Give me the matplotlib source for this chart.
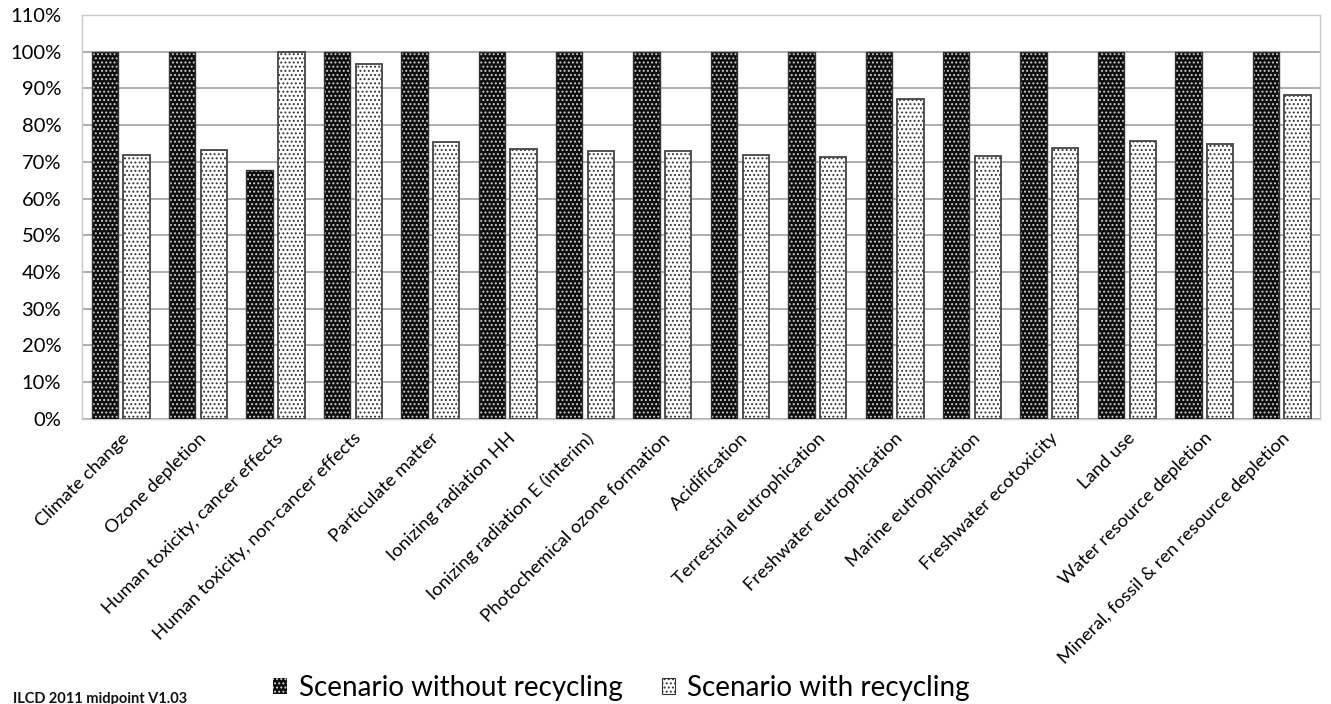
import matplotlib
matplotlib.use("Agg")
import matplotlib.pyplot as plt
import numpy as np
from matplotlib.patches import Patch
from matplotlib.ticker import MultipleLocator, FuncFormatter

categories = ["Climate change", "Ozone depletion", "Human toxicity, cancer effects",
              "Human toxicity, non-cancer effects", "Particulate matter", "Ionizing radiation HH",
              "Ionizing radiation E (interim)", "Photochemical ozone formation", "Acidification",
              "Terrestrial eutrophication", "Freshwater eutrophication", "Marine eutrophication",
              "Freshwater ecotoxicity", "Land use", "Water resource depletion",
              "Mineral, fossil & ren resource depletion"]
without_recycling = [100, 100, 67.8, 100, 100, 100, 100, 100, 100, 100, 100, 100, 100, 100, 100, 100]
with_recycling = [72.0, 73.3, 100, 96.6, 75.4, 73.4, 73.0, 73.0, 71.8, 71.2, 87.0, 71.5, 73.7, 75.7, 75.0, 88.3]
series_names = ["Scenario without recycling", "Scenario with recycling"]

plt.rcParams['font.family'] = ['Lato', 'DejaVu Sans']
plt.rcParams['hatch.linewidth'] = 0.9

fig = plt.figure(figsize=(13.31, 7.04), dpi=100)
ax = fig.add_axes([0.0616, 0.405, 0.9304, 0.5737])

x = np.arange(len(categories))
w = 0.34
off = 0.205

# dark bars: black with white dots
ax.bar(x - off, without_recycling, w, color='#0e0e0e', edgecolor='#d0d0d0', hatch='....', linewidth=0, zorder=3)
ax.bar(x - off, without_recycling, w, fill=False, edgecolor='#333333', linewidth=1.0, zorder=4)
# light bars: white with black dots
ax.bar(x + off, with_recycling, w, color='white', edgecolor='#333333', hatch='....', linewidth=0, zorder=3)
ax.bar(x + off, with_recycling, w, fill=False, edgecolor='#444444', linewidth=1.3, zorder=4)

ax.set_xlim(-0.5, len(categories) - 0.5)
ax.set_ylim(0, 110)
ax.yaxis.set_major_locator(MultipleLocator(10))
ax.yaxis.set_major_formatter(FuncFormatter(lambda v, p: f"{int(round(v))}%"))
ax.grid(axis='y', color='#a0a0a0', linewidth=1.2, zorder=0)
ax.set_axisbelow(True)
for s in ax.spines.values():
    s.set_color('#c8c8c8')
    s.set_linewidth(1.0)
ax.tick_params(axis='both', length=0)
ax.tick_params(axis='y', labelsize=14.5, pad=15)
ax.set_xticks(x)
ax.set_xticklabels(categories, rotation=45, ha='right', rotation_mode='anchor', fontsize=13.3)
ax.tick_params(axis='x', pad=8)

handles = [Patch(facecolor='#0e0e0e', edgecolor='#d0d0d0', hatch='....', linewidth=0),
           Patch(facecolor='white', edgecolor='#333333', hatch='....', linewidth=0.8)]
fig.legend(handles, series_names, loc='center', bbox_to_anchor=(0.467, 0.023), ncol=2,
           frameon=False, fontsize=20, handlelength=0.47, handleheight=0.47,
           handletextpad=0.45, columnspacing=1.4, borderaxespad=0, borderpad=0)

fig.text(0.0095, 0.001, "ILCD 2011 midpoint V1.03", fontsize=10.5, fontweight='bold',
         ha='left', va='baseline', color='#111111')

fig.savefig("out.png", dpi=100)
